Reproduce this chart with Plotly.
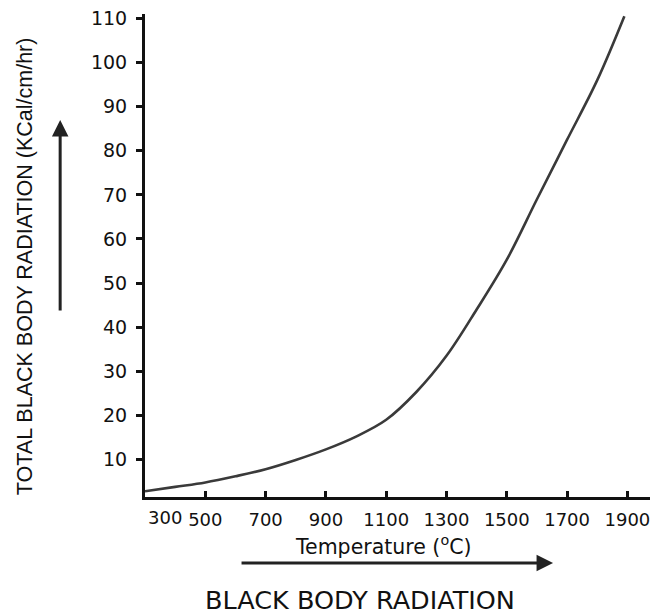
import plotly.graph_objects as go

# Data
temperature_c = [300, 400, 500, 600, 700, 800, 900, 1000, 1100, 1200, 1300,
                 1400, 1500, 1600, 1700, 1800, 1890]
radiation = [2.8, 3.8, 4.8, 6.2, 7.8, 9.9, 12.3, 15.2, 19.0, 25.3, 33.5,
             44.0, 55.3, 69.0, 82.5, 96.0, 110.5]

x_ticks = [500, 700, 900, 1100, 1300, 1500, 1700, 1900]
x_tick_labels = ["500", "700", "900", "1100", "1300", "1500", "1700", "1900"]
first_x_label = "300"
y_ticks = [10, 20, 30, 40, 50, 60, 70, 80, 90, 100, 110]
y_tick_labels = [str(v) for v in y_ticks]

FONT = "DejaVu Sans"
INK = "#111"

fig = go.Figure()
fig.add_trace(go.Scatter(
    x=temperature_c, y=radiation, mode="lines",
    line=dict(color="#3a3a3a", width=2.6, shape="spline", smoothing=1.0),
    hoverinfo="skip", showlegend=False,
))

fig.update_layout(
    width=650, height=614,
    margin=dict(l=145, r=0, t=14, b=117),
    paper_bgcolor="white", plot_bgcolor="white",
    font=dict(family=FONT, color=INK, size=18),
    xaxis=dict(
        range=[300, 1975], tickvals=x_ticks, ticktext=x_tick_labels,
        showgrid=False, zeroline=False,
        showline=True, linecolor=INK, linewidth=3,
        ticks="inside", ticklen=6, tickwidth=2.5, tickcolor=INK,
        tickfont=dict(family=FONT, size=18, color=INK),
        ticklabelstandoff=4, ticklabeloverflow="allow",
    ),
    yaxis=dict(
        range=[1.5, 111], tickvals=y_ticks, ticktext=y_tick_labels,
        showgrid=False, zeroline=False,
        showline=True, linecolor=INK, linewidth=3,
        ticks="outside", ticklen=6, tickwidth=2.5, tickcolor=INK,
        tickfont=dict(family=FONT, size=19, color=INK),
        ticklabelstandoff=5,
    ),
)

annotations = [
    # "300" tick label, drawn slightly right of the axis corner as in the reference
    dict(x=300, y=0, xref="x", yref="paper", text=first_x_label, showarrow=False,
         xanchor="center", yanchor="middle", xshift=20, yshift=-20,
         font=dict(family=FONT, size=18, color=INK)),
    # Y title
    dict(x=-0.2376, y=0.478, xref="paper", yref="paper",
         xanchor="center", yanchor="middle",
         text="TOTAL BLACK BODY RADIATION (KCal/cm/hr)", showarrow=False,
         textangle=-90, font=dict(family="Liberation Sans", size=21.5, color=INK)),
    # X title
    dict(x=0.471, y=-0.0994, xref="paper", yref="paper",
         xanchor="center", yanchor="middle",
         text="Temperature (<sup>o</sup>C)", showarrow=False,
         font=dict(family=FONT, size=20.5, color=INK)),
    # Bottom caption
    dict(x=0.4257, y=-0.213, xref="paper", yref="paper",
         xanchor="center", yanchor="middle",
         text="BLACK BODY RADIATION", showarrow=False,
         font=dict(family=FONT, size=25.5, color=INK)),
    # Horizontal arrow
    dict(x=0.808, y=-0.1366, xref="paper", yref="paper", text="",
         showarrow=True, ax=-313, ay=0, arrowhead=2, arrowsize=1.1,
         arrowwidth=3, arrowcolor="#222"),
    # Vertical arrow
    dict(x=-0.168, y=0.7805, xref="paper", yref="paper", text="",
         showarrow=True, ax=0, ay=192, arrowhead=2, arrowsize=1.1,
         arrowwidth=3, arrowcolor="#222"),
]
fig.update_layout(annotations=annotations)

fig.write_html("out.html")
